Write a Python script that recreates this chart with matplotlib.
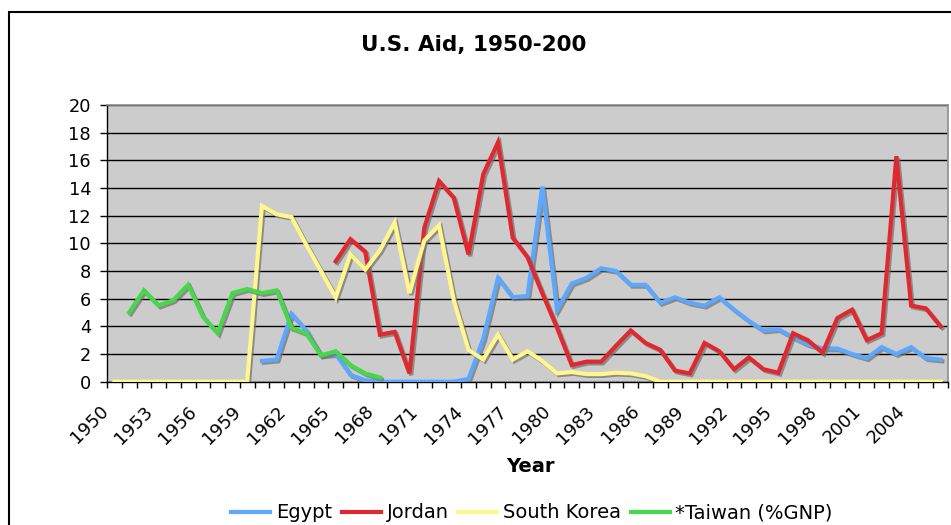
import numpy as np
import matplotlib
matplotlib.use("Agg")
import matplotlib.pyplot as plt
import matplotlib.patheffects as pe
from matplotlib.patches import Rectangle
from matplotlib.transforms import ScaledTranslation, blended_transform_factory

nan = np.nan
years = list(range(1950, 2007))

egypt = [nan]*10 + [1.5, 1.6, 4.9, 3.7, 1.9, 2.0, 0.5, 0.1, 0, 0,
                    0, 0, 0, 0, 0.2, 3.1, 7.5, 6.1, 6.2, 14.1,
                    5.2, 7.1, 7.5, 8.2, 8.0, 7.0, 7.0, 5.7, 6.1, 5.7,
                    5.5, 6.1, 5.2, 4.4, 3.7, 3.8, 3.2, 2.7, 2.4, 2.4,
                    2.0, 1.7, 2.5, 2.0, 2.5, 1.7, 1.6]
jordan = [nan]*15 + [8.7, 10.3, 9.4, 3.4, 3.6,
                     0.6, 11.1, 14.5, 13.3, 9.2, 15.0, 17.3, 10.4, 9.0, 6.4,
                     3.9, 1.2, 1.45, 1.45, 2.6, 3.7, 2.8, 2.3, 0.8, 0.6,
                     2.8, 2.2, 0.9, 1.75, 0.9, 0.65, 3.5, 3.0, 2.1, 4.6,
                     5.2, 3.0, 3.5, 16.3, 5.5, 5.3, 4.0]
south_korea = [0]*10 + [12.7, 12.1, 11.9, 9.9, 8.0, 6.1, 9.2, 8.1, 9.5, 11.5,
                        6.4, 10.2, 11.3, 5.9, 2.3, 1.6, 3.4, 1.6, 2.2, 1.5,
                        0.6, 0.7, 0.55, 0.55, 0.65, 0.6, 0.4] + [0]*20
taiwan = [nan] + [5.0, 6.6, 5.5, 5.9, 7.0, 4.7, 3.5, 6.4, 6.7,
                  6.4, 6.6, 3.9, 3.5, 1.9, 2.2, 1.2, 0.6, 0.3] + [nan]*38

series_names = ["Egypt", "Jordan", "South Korea", "*Taiwan (%GNP)"]
series_colors = ["#5CA8FF", "#E0282F", "#FFF68C", "#46D848"]
y_ticks = list(range(0, 21, 2))
x_label_years = years[::3]

W, H = 951, 525
fig = plt.figure(figsize=(W/100, H/100), dpi=100)
fig.patch.set_facecolor("white")

L, R, T, B = 107, 948, 105, 381.7
ax = fig.add_axes([L/W, 1 - B/H, (R-L)/W, (B-T)/H])
ax.set_facecolor("#CCCCCC")

x = np.arange(len(years))
shadow = [pe.SimpleLineShadow(offset=(1.3, -1.3), shadow_color="#707070", alpha=0.7), pe.Normal()]
for vals, name, col in zip([egypt, jordan, south_korea, taiwan], series_names, series_colors):
    ax.plot(x, np.array(vals, dtype=float), color=col, lw=3.0, label=name,
            solid_joinstyle="miter", path_effects=shadow, zorder=3)

ax.set_xlim(-0.5, len(years) - 0.5)
ax.set_ylim(0, 20)
ax.set_yticks(y_ticks)
ax.set_yticklabels([str(v) for v in y_ticks], fontsize=12.8)
ax.yaxis.grid(True, color="black", lw=1.0)
ax.set_axisbelow(True)

ax.set_xticks([])
ax.set_xticks(np.arange(-0.5, len(years)), minor=True)
ax.tick_params(axis="x", which="minor", length=4.5, width=1, direction="out")
ax.tick_params(axis="y", which="major", length=5, width=1, direction="out", pad=6.5)

lab_tr = blended_transform_factory(ax.transData, ax.transAxes) + \
    ScaledTranslation(-0.09, -0.27, fig.dpi_scale_trans)
for yr in x_label_years:
    ax.text(years.index(yr), 0, str(yr), transform=lab_tr, fontsize=13, rotation=45,
            ha="right", va="center", rotation_mode="anchor", clip_on=False)

for s in ["left", "bottom"]:
    ax.spines[s].set_color("black")
    ax.spines[s].set_linewidth(1.0)
for s in ["top", "right"]:
    ax.spines[s].set_color("#8C8C8C")
    ax.spines[s].set_linewidth(1.2)

fig.text(474/W, 1 - 45/H, "U.S. Aid, 1950-200", ha="center", va="center",
         fontsize=15.5, fontweight="bold")
fig.text(530/W, 1 - 467/H, "Year", ha="center", va="center",
         fontsize=14, fontweight="bold")

leg = fig.legend(loc="center", bbox_to_anchor=(532/W, 1 - 513/H), ncol=4,
                 frameon=False, fontsize=14, handlelength=2.0, handletextpad=0.3,
                 columnspacing=0.5, borderaxespad=0)
for h in leg.get_lines():
    h.set_linewidth(3.0)
    h.set_path_effects([])

fig.add_artist(Rectangle((9/W, -0.1), 1.2, 1 - 12/H + 0.1, transform=fig.transFigure,
                         fill=False, edgecolor="black", lw=1.5))

fig.savefig("out.png", dpi=100)
